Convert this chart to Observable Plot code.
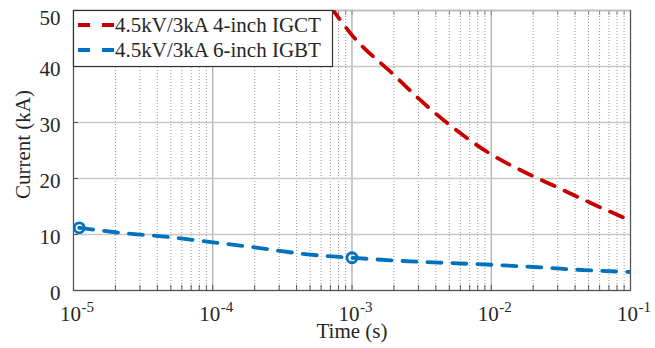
<!DOCTYPE html>
<html>
<head>
<meta charset="utf-8">
<script src="https://cdn.jsdelivr.net/npm/d3@7"></script>
<script src="https://cdn.jsdelivr.net/npm/@observablehq/plot@0.6"></script>
<style>
  html, body { margin: 0; padding: 0; background: #fff; }
  #chart { width: 655px; height: 348px; }
</style>
</head>
<body>
<div id="chart"></div>
<script>
// ---- data ----
const seriesNames = ["4.5kV/3kA 4-inch IGCT", "4.5kV/3kA 6-inch IGBT"];
const seriesColors = ["#c80000", "#0072bd"];

const igctT = [7.1e-4, 1e-3, 2e-3, 3e-3, 5e-3, 1e-2, 2e-2, 3e-2, 5e-2, 1e-1];
const igctI = [50.5, 45.6, 38.5, 34.3, 29.6, 24.3, 20.4, 18.4, 15.8, 12.5];

const igbtT = [1.1e-5, 2e-5, 5e-5, 1e-4, 2e-4, 5e-4, 1e-3, 2e-3, 5e-3, 1e-2, 2e-2, 5e-2, 1e-1];
const igbtI = [11.2, 10.4, 9.5, 8.6, 7.7, 6.4, 5.85, 5.35, 4.9, 4.6, 4.2, 3.6, 3.3];

const markerT = [1.1e-5, 1e-3];
const markerI = [11.2, 5.85];

const xTicks = [1e-5, 1e-4, 1e-3, 1e-2, 1e-1];
const xTickBase = ["10", "10", "10", "10", "10"];
const xTickExp = ["-5", "-4", "-3", "-2", "-1"];
const yTicks = [0, 10, 20, 30, 40, 50];
const xLabel = "Time (s)";
const yLabel = "Current (kA)";

// ---- build tables ----
const igct = igctT.map((t, i) => ({t, v: igctI[i]}));
const igbt = igbtT.map((t, i) => ({t, v: igbtI[i]}));
const markers = markerT.map((t, i) => ({t, v: markerI[i]}));
const xMinor = [];
xTicks.slice(0, -1).forEach(d => { for (let k = 2; k <= 9; k++) xMinor.push(d * k); });
const xAll = xTicks.concat(xMinor);
const xLabels = xTicks.map((t, i) => ({t, base: xTickBase[i], exp: xTickExp[i]}));
const yLow = yTicks.filter(d => d < 50);
const yTop = yTicks.filter(d => d >= 50);
const yMin = yTicks[0], yMax = yTicks[yTicks.length - 1];
const xMin = xTicks[0];
const tickLenY = (yMax - yMin) * 0.018;   // ~5px inward tick
const tickLenX = 1.085;                   // ~5px inward tick on log axis (factor)

const font = "'Liberation Serif', 'Times New Roman', serif";
const ink = "#262626";

const plot = Plot.plot({
  width: 655,
  height: 348,
  marginLeft: 73,
  marginRight: 25,
  marginTop: 10,
  marginBottom: 58,
  style: {fontFamily: font, fontSize: "21px", color: ink, background: "#fff"},
  x: {type: "log", domain: [1e-5, 1e-1], axis: null},
  y: {domain: [0, 50], axis: null},
  marks: [
    Plot.ruleX(xMinor, {stroke: "#9a9a9a", strokeWidth: 1, strokeDasharray: "1,2"}),
    Plot.ruleX(xTicks, {stroke: "#a8a8a8", strokeWidth: 1.2}),
    Plot.ruleY(yTicks, {stroke: "#c8c8c8", strokeWidth: 1.5}),
    // inward tick marks
    Plot.ruleX(xAll, {x: d => d, y1: yMin, y2: yMin + tickLenY, stroke: "#555"}),
    Plot.ruleX(xAll, {x: d => d, y1: yMax, y2: yMax - tickLenY, stroke: "#888"}),
    Plot.ruleY(yTicks, {y: d => d, x1: xMin, x2: xMin * tickLenX, stroke: "#555"}),
    Plot.frame({stroke: "#555", strokeWidth: 1.2}),
    Plot.ruleY([50], {stroke: "#bcbcbc", strokeWidth: 1.2}),
    Plot.dot(markers, {x: "t", y: "v", r: 5, stroke: seriesColors[1], strokeWidth: 2.8, fill: "none"}),
    Plot.line(igbt, {x: "t", y: "v", stroke: seriesColors[1], strokeWidth: 3.8, strokeDasharray: "14,11", curve: "monotone-x", clip: true}),
    Plot.line(igct, {x: "t", y: "v", stroke: seriesColors[0], strokeWidth: 3.8, strokeDasharray: "14,11", curve: "monotone-x", clip: true}),
    // y tick labels
    Plot.text(yLow, {y: d => d, frameAnchor: "left", dx: -13, dy: 3, text: d => String(d), textAnchor: "end", lineAnchor: "middle", fontSize: 21, fill: ink}),
    Plot.text(yTop, {y: d => d, frameAnchor: "left", dx: -13, dy: 8, text: d => String(d), textAnchor: "end", lineAnchor: "middle", fontSize: 21, fill: ink}),
    // x tick labels: base + superscript exponent
    Plot.text(xLabels, {x: "t", frameAnchor: "bottom", dy: 24, dx: -3, text: "base", textAnchor: "middle", lineAnchor: "middle", fontSize: 21, fill: ink}),
    Plot.text(xLabels, {x: "t", frameAnchor: "bottom", dy: 17, dx: 8, text: "exp", textAnchor: "start", lineAnchor: "middle", fontSize: 15, fill: ink}),
    // axis titles
    Plot.text([xLabel], {frameAnchor: "bottom", dy: 41, lineAnchor: "middle", fontSize: 21, fill: ink}),
    Plot.text([yLabel], {frameAnchor: "left", dx: -50, dy: -6, rotate: -90, textAnchor: "middle", lineAnchor: "middle", fontSize: 21, fill: ink})
  ]
});

// ---- legend (MATLAB-style box in the upper left) ----
const svg = d3.select(plot);
const lg = svg.append("g").attr("font-family", font).attr("font-size", 21).attr("text-anchor", "start");
lg.append("rect").attr("x", 73.5).attr("y", 10.5).attr("width", 259).attr("height", 56)
  .attr("fill", "#fff").attr("stroke", "#333").attr("stroke-width", 1.2);
seriesNames.forEach((name, i) => {
  const cy = 25 + i * 25;
  lg.append("line").attr("x1", 78).attr("x2", 114).attr("y1", cy).attr("y2", cy)
    .attr("stroke", seriesColors[i]).attr("stroke-width", 3.8).attr("stroke-dasharray", "12,12");
  lg.append("text").attr("x", 115).attr("y", cy).attr("dy", "0.34em")
    .attr("text-anchor", "start").attr("fill", ink).text(name);
});

document.getElementById("chart").appendChild(plot);
</script>
</body>
</html>
